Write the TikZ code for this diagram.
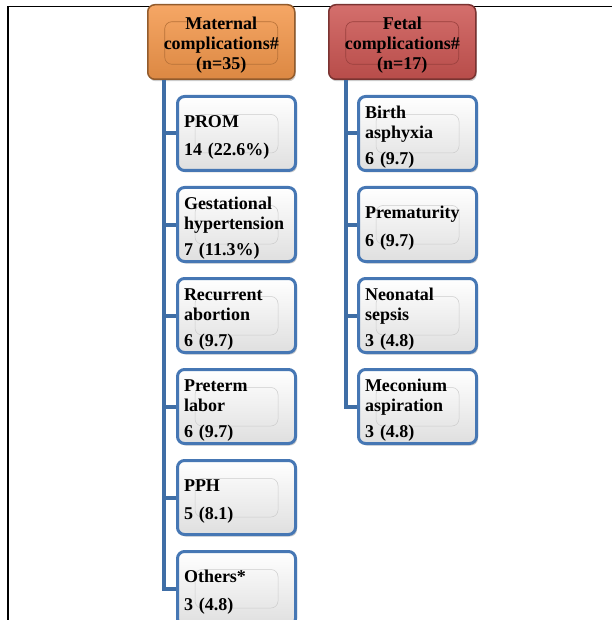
\documentclass[tikz,border=0pt]{standalone}
\usepackage{fontspec}
\setmainfont{Liberation Serif}
\usetikzlibrary{positioning,shadows}
\definecolor{matfill}{HTML}{F4974A}
\definecolor{fetfill}{HTML}{CC5552}
\definecolor{itemblue}{HTML}{4677B4}
\definecolor{trunkblue}{HTML}{3F6EA6}

\tikzset{
  header/.style={draw=#1!60!black, line width=1.5pt, rounded corners=7pt,
    top color=#1!85!white, bottom color=#1!90!black,
    minimum width=147pt, minimum height=74.5pt, text width=140pt,
    inner ysep=0pt, align=center, anchor=north west,
    font=\bfseries\fontsize{18}{20}\selectfont,
    execute at begin node={\rule{0pt}{18.5pt}},
    drop shadow={shadow xshift=1pt, shadow yshift=-2pt, opacity=.4},
    path picture={\draw[#1!75!black, line width=.6pt]
      ([shift={(17pt,-17pt)}]path picture bounding box.north west) rectangle
      ([shift={(-17pt,15pt)}]path picture bounding box.south east);}},
  item/.style={draw=itemblue, line width=3pt, rounded corners=7pt,
    top color=white, bottom color=gray!25,
    minimum width=118pt, minimum height=74pt, text width=105pt,
    inner xsep=6.5pt, inner ysep=0pt, align=left,
    font=\bfseries\fontsize{18}{19.5}\selectfont,
    execute at begin node={\rule{0pt}{20pt}},
    drop shadow={shadow xshift=1.5pt, shadow yshift=-2pt, opacity=.4},
    path picture={\draw[gray!40, line width=.5pt]
      ([shift={(17.5pt,-18pt)}]path picture bounding box.north west) rectangle
      ([shift={(-17.5pt,17.5pt)}]path picture bounding box.south east);}},
  link/.style={draw=trunkblue, line width=4pt},
}

\begin{document}
\begin{tikzpicture}[x=1pt, y=-1pt]
  \useasboundingbox (0,0) rectangle (612,620);
  \draw[line width=1.6pt] (8,620) -- (8,6.5) -- (612,6.5);

  % maternal branch
  \node[header=matfill] (mat) at (147,4) {Maternal\\complications\#\\(n=35)};
  \node[item, anchor=north west] (m1) at (176,95) {PROM\\[8pt]14 (22.6\%)};
  \node[item, below=14pt of m1] (m2) {Gestational\\hypertension\\[7pt]7 (11.3\%)};
  \node[item, below=14pt of m2] (m3) {Recurrent\\abortion\\[7pt]6 (9.7)};
  \node[item, below=14pt of m3] (m4) {Preterm\\labor\\[7pt]6 (9.7)};
  \node[item, below=14pt of m4] (m5) {PPH\\[8pt]5 (8.1)};
  \node[item, below=14pt of m5] (m6) {Others*\\[8pt]3 (4.8)};

  % fetal branch
  \node[header=fetfill] (fet) at (328,4) {Fetal\\complications\#\\(n=17)};
  \node[item, anchor=north west] (f1) at (357,95) {Birth\\asphyxia\\[7pt]6 (9.7)};
  \node[item, below=14pt of f1] (f2) {Prematurity\\[8pt]6 (9.7)};
  \node[item, below=14pt of f2] (f3) {Neonatal\\sepsis\\[7pt]3 (4.8)};
  \node[item, below=14pt of f3] (f4) {Meconium\\aspiration\\[7pt]3 (4.8)};

  % connectors
  \coordinate (mt) at ([xshift=17pt]mat.south west);
  \coordinate (ft) at ([xshift=18pt]fet.south west);
  \draw[link] (mt) -- (mt |- m6.west);
  \draw[link] (ft) -- (ft |- f4.west);
  \foreach \n in {m1,m2,m3,m4,m5,m6}
    \draw[link] ([xshift=-2pt]mt |- \n.west) -- (\n.west);
  \foreach \n in {f1,f2,f3,f4}
    \draw[link] ([xshift=-2pt]ft |- \n.west) -- (\n.west);
\end{tikzpicture}
\end{document}
